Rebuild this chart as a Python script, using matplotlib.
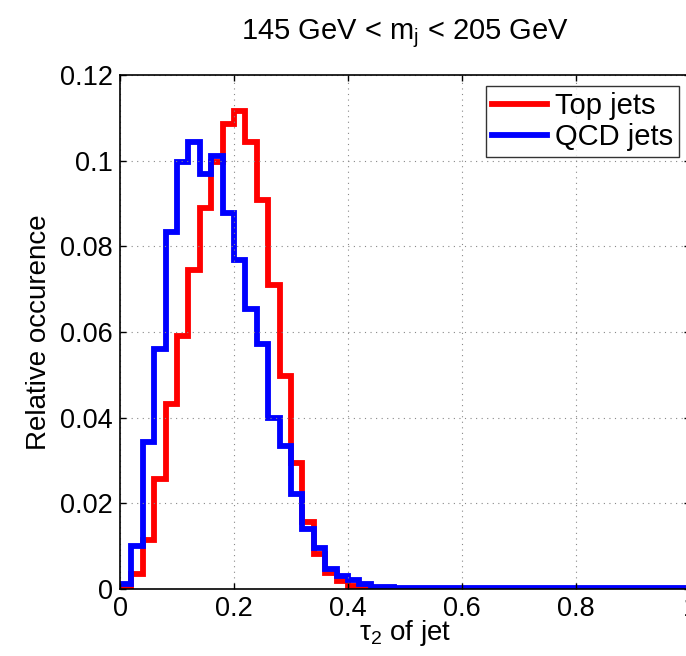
import numpy as np
import matplotlib
matplotlib.use("Agg")
from matplotlib import pyplot as plt

plt.rcParams['font.family'] = ['Liberation Sans', 'DejaVu Sans']
plt.rcParams['mathtext.fontset'] = 'custom'
plt.rcParams['mathtext.rm'] = 'Liberation Sans'
plt.rcParams['mathtext.it'] = 'Liberation Sans'

# bin edges for tau_2, width 0.02
edges = np.linspace(0, 1, 51)

top_jets = [0.0003, 0.0035, 0.0114, 0.0257, 0.0432, 0.0591, 0.0746, 0.0890, 0.0998, 0.1085,
            0.1116, 0.1045, 0.0909, 0.0711, 0.0498, 0.0294, 0.0157, 0.0083, 0.0038, 0.0018,
            0.0007, 0.0003, 0.0002, 0.0001, 0.0001, 0.0001, 0.0001, 0.0001, 0.0001, 0.0001,
            0.0001, 0.0001, 0.0001, 0.0001, 0.0001, 0.0001, 0.0001, 0.0001, 0.0001, 0.0001,
            0.0001, 0.0001, 0.0001, 0.0001, 0.0001, 0.0001, 0.0001, 0.0001, 0.0001, 0.0001]

qcd_jets = [0.0013, 0.0100, 0.0343, 0.0561, 0.0833, 0.0998, 0.1044, 0.0968, 0.1011, 0.0877,
            0.0768, 0.0653, 0.0573, 0.0400, 0.0335, 0.0221, 0.0141, 0.0095, 0.0047, 0.0030,
            0.0021, 0.0011, 0.0005, 0.0004, 0.0003, 0.0003, 0.0003, 0.0003, 0.0003, 0.0003,
            0.0003, 0.0003, 0.0003, 0.0003, 0.0003, 0.0003, 0.0003, 0.0003, 0.0003, 0.0003,
            0.0003, 0.0003, 0.0003, 0.0003, 0.0003, 0.0003, 0.0003, 0.0003, 0.0003, 0.0003]

xticks = [0, 0.2, 0.4, 0.6, 0.8, 1]
xticklabels = ['0', '0.2', '0.4', '0.6', '0.8', '1']
yticks = [0, 0.02, 0.04, 0.06, 0.08, 0.1, 0.12]
yticklabels = ['0', '0.02', '0.04', '0.06', '0.08', '0.1', '0.12']

fig = plt.figure(figsize=(6.86, 6.56), dpi=100)
ax = fig.add_axes([0.175, 0.102, 0.831, 0.7835])

ax.stairs(top_jets, edges, baseline=None, color='#ff0000', linewidth=4.2, label='Top jets')
ax.stairs(qcd_jets, edges, baseline=None, color='#0000ff', linewidth=4.2, label='QCD jets')

ax.set_xlim(0, 1)
ax.set_ylim(0, 0.12)
ax.set_xticks(xticks)
ax.set_xticklabels(xticklabels)
ax.set_yticks(yticks)
ax.set_yticklabels(yticklabels)
ax.tick_params(direction='in', top=True, right=True, length=4, width=1, labelsize=19.5, pad=5)
ax.grid(True, linestyle=(0, (1, 4)), color='#888888', linewidth=0.8)
for s in ax.spines.values():
    s.set_linewidth(1.2)

ax.set_xlabel(r'$\mathregular{\tau_2}$ of jet', fontsize=20, labelpad=-3)
ax.set_ylabel('Relative occurence', fontsize=20, labelpad=6)
ax.set_title(r'145 GeV < m$_\mathregular{j}$ < 205 GeV', fontsize=21, pad=26)

leg = ax.legend(loc='upper right', bbox_to_anchor=(0.99, 0.99), fontsize=21, frameon=True,
                fancybox=False, edgecolor='black', handlelength=1.9, handletextpad=0.25,
                borderpad=0.2, labelspacing=0.1, borderaxespad=0.2)
leg.get_frame().set_linewidth(1.0)

fig.savefig('out.png', dpi=100)
